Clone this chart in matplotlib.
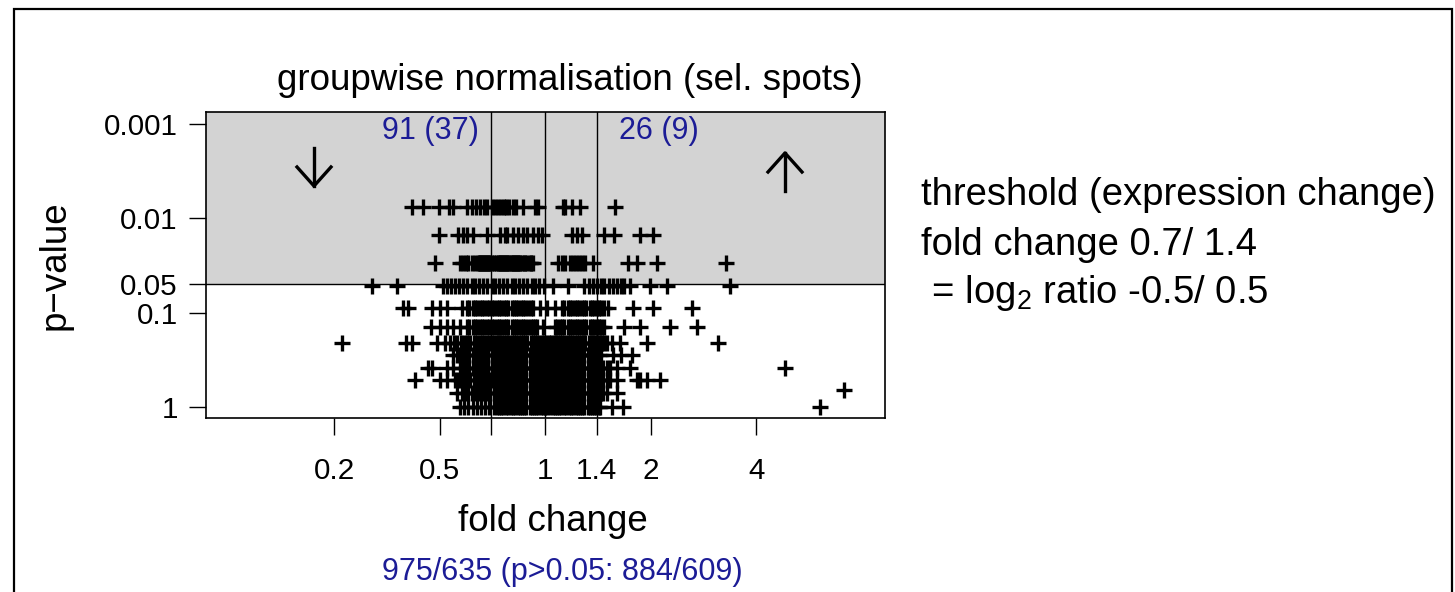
import numpy as np
import matplotlib
matplotlib.use("Agg")
import matplotlib.pyplot as plt
from matplotlib.patches import Rectangle
from matplotlib.lines import Line2D

plt.rcParams['font.family'] = ['Liberation Sans', 'DejaVu Sans']
plt.rcParams['mathtext.fontset'] = 'custom'
plt.rcParams['mathtext.rm'] = 'Liberation Sans'

# ---------------- text / labels ----------------
title = "groupwise normalisation (sel. spots)"
x_label = "fold change"
y_label = "p\u2212value"
x_tick_folds = [0.25, 0.5, 0.7, 1, 1.4, 2, 4]
x_tick_labels = ["0.2", "0.5", "", "1", "1.4", "2", "4"]
y_tick_pvals = [0.001, 0.01, 0.05, 0.1, 1]
y_tick_labels = ["0.001", "0.01", "0.05", "0.1", "1"]
fold_lines = [0.7, 1.0, 1.4]
p_threshold = 0.05
count_down = "91 (37)"
count_up = "26 (9)"
summary = "975/635 (p>0.05: 884/609)"
side_text = ["threshold (expression change)",
             "fold change 0.7/ 1.4",
             r" = log$_\mathregular{2}$ ratio -0.5/ 0.5"]

# ---------------- data: p-value levels and log2 ratios per level ----------------
p_levels = [0.0075, 0.015, 0.0295, 0.0522, 0.0894, 0.142,
            0.210, 0.282, 0.388, 0.520, 0.715, 1.0]

row_0075 = [-1.26, -1.16, -1.01, -0.91, -0.88, -0.74, -0.70, -0.66, -0.62, -0.58,
            -0.55, -0.51, -0.48, -0.45, -0.42, -0.39, -0.37, -0.34, -0.31, -0.28,
            -0.21, -0.10, -0.07, 0.17, 0.19, 0.25, 0.33, 0.66]
row_015 = [-1.01, -0.83, -0.78, -0.74, -0.69, -0.55, -0.43, -0.38, -0.36, -0.31,
           -0.26, -0.21, -0.17, -0.12, -0.07, -0.03, 0.25, 0.30, 0.35, 0.56,
           0.65, 0.90, 1.02]
row_0295 = [-1.05, -0.81, -0.78, -0.75, -0.73, -0.70, -0.67, -0.64, -0.63, -0.62,
            -0.61, -0.60, -0.59, -0.58, -0.57, -0.56, -0.55, -0.54, -0.53, -0.52,
            -0.51, -0.49, -0.47, -0.45, -0.44, -0.43, -0.42, -0.41, -0.40, -0.39,
            -0.38, -0.37, -0.36, -0.35, -0.34, -0.33, -0.32, -0.31, -0.30, -0.29,
            -0.28, -0.27, -0.26, -0.25, -0.24, -0.22, -0.20, -0.19, -0.17, -0.15,
            -0.14, -0.12, 0.12, 0.16, 0.19, 0.23, 0.26, 0.29, 0.32, 0.35,
            0.38, 0.45, 0.78, 0.87, 1.06, 1.71]
row_0522 = [-1.64, -1.41, -0.97, -0.93, -0.89, -0.86, -0.82, -0.78, -0.74, -0.70,
            -0.67, -0.63, -0.59, -0.55, -0.51, -0.48, -0.44, -0.40, -0.36, -0.32,
            -0.29, -0.25, -0.21, -0.17, -0.13, -0.10, -0.06, -0.01, 0.07, 0.21,
            0.37, 0.41, 0.45, 0.49, 0.53, 0.56, 0.60, 0.64, 0.68, 0.72,
            0.75, 0.80, 0.99, 1.15, 1.75]
row_0894 = [-1.35, -1.30, -1.07, -1.00, -0.93, -0.79,
            -0.74, -0.72, -0.69, -0.67, -0.65, -0.62, -0.60, -0.58, -0.55, -0.53,
            -0.51, -0.49, -0.46, -0.44, -0.42, -0.39, -0.37, -0.35, -0.32, -0.30,
            -0.28, -0.26, -0.23, -0.21, -0.19, -0.16, -0.14, -0.12,
            -0.05, 0.02, 0.09,
            0.16, 0.18, 0.21, 0.23, 0.25, 0.28, 0.30, 0.32, 0.35, 0.37,
            0.39, 0.42, 0.44, 0.46, 0.49, 0.51, 0.53, 0.56,
            0.59, 0.83, 1.02, 1.39]
row_142 = [-1.08, -1.00, -0.93, -0.88, -0.81,
           -0.74, -0.72, -0.69, -0.67, -0.65, -0.62, -0.60, -0.58, -0.55, -0.53,
           -0.51, -0.49, -0.46, -0.44, -0.42, -0.39, -0.37, -0.35, -0.32, -0.30,
           -0.28, -0.26, -0.23, -0.21, -0.19, -0.16, -0.14, -0.12, -0.10, -0.08,
           -0.02,
           0.09, 0.11, 0.14, 0.16, 0.18, 0.21, 0.23, 0.25, 0.28, 0.30,
           0.32, 0.35, 0.37, 0.39, 0.42, 0.44, 0.46, 0.49, 0.51, 0.53, 0.56,
           0.75, 0.90, 1.18, 1.44]
row_210 = [-1.93, -1.32, -1.26, -1.03, -0.95,
           -0.90, -0.87, -0.84, -0.80, -0.77, -0.74, -0.71, -0.68, -0.65, -0.62,
           -0.59, -0.56, -0.53, -0.50, -0.47, -0.45,
           -0.43, -0.41, -0.39, -0.36, -0.34, -0.32, -0.30, -0.28, -0.25, -0.23,
           -0.21, -0.19, -0.17, -0.14, -0.12, -0.10, -0.08, -0.06, -0.03, -0.01,
           0.01, 0.03, 0.05, 0.08, 0.10, 0.12, 0.14, 0.16, 0.19, 0.21,
           0.23, 0.25, 0.27, 0.30, 0.32, 0.34, 0.36, 0.38, 0.41, 0.43,
           0.45, 0.47, 0.49, 0.52, 0.54, 0.56, 0.58,
           0.63, 0.71, 0.96, 1.64]
row_282 = [-0.88, -0.84, -0.81, -0.78, -0.75, -0.72, -0.69, -0.66, -0.63, -0.60,
           -0.57, -0.54, -0.51, -0.48, -0.46,
           -0.44, -0.42, -0.40, -0.37, -0.35, -0.33, -0.31, -0.29, -0.26, -0.24,
           -0.22, -0.20, -0.18, -0.15, -0.13, -0.11, -0.09, -0.07, -0.04, -0.02,
           0.00, 0.02, 0.04, 0.07, 0.09, 0.11, 0.13, 0.15, 0.18, 0.20,
           0.22, 0.24, 0.26, 0.29, 0.31, 0.33, 0.35, 0.37, 0.40, 0.42,
           0.44, 0.46, 0.48, 0.51, 0.53,
           0.64, 0.72, 0.82]
row_388 = [-1.11, -1.07, -0.93, -0.88,
           -0.81, -0.78, -0.75, -0.72, -0.69, -0.66, -0.63, -0.60, -0.57, -0.54,
           -0.51, -0.48, -0.46,
           -0.44, -0.42, -0.40, -0.37, -0.35, -0.33, -0.31, -0.29, -0.26, -0.24,
           -0.22, -0.20, -0.18, -0.15, -0.13, -0.11, -0.09, -0.07, -0.04, -0.02,
           0.00, 0.02, 0.04, 0.07, 0.09, 0.11, 0.13, 0.15, 0.18, 0.20,
           0.22, 0.24, 0.26, 0.29, 0.31, 0.33, 0.35, 0.37, 0.40, 0.42,
           0.44, 0.46, 0.48, 0.51, 0.53, 0.55, 0.58, 0.61,
           0.68, 0.80, 2.27]
row_520 = [-1.24, -1.00, -0.93,
           -0.86, -0.83, -0.80, -0.77, -0.74, -0.71, -0.68, -0.65, -0.62, -0.59,
           -0.56, -0.53, -0.50, -0.47,
           -0.44, -0.42, -0.40, -0.37, -0.35, -0.33, -0.31, -0.29, -0.26, -0.24,
           -0.22, -0.20, -0.18, -0.15, -0.13, -0.11, -0.09, -0.07, -0.04, -0.02,
           0.00, 0.02, 0.04, 0.07, 0.09, 0.11, 0.13, 0.15, 0.18, 0.20,
           0.22, 0.24, 0.26, 0.29, 0.31, 0.33, 0.35, 0.37, 0.40, 0.42,
           0.44, 0.46, 0.48, 0.51, 0.53, 0.55, 0.58, 0.61,
           0.68, 0.87, 0.90, 0.96, 1.09]
row_715 = [-0.84, -0.79,
           -0.76, -0.73, -0.70, -0.67, -0.64, -0.61, -0.58, -0.55, -0.52, -0.49,
           -0.46,
           -0.44, -0.42, -0.40, -0.37, -0.35, -0.33, -0.31, -0.29, -0.26, -0.24,
           -0.22, -0.20, -0.18, -0.15, -0.13, -0.11, -0.09, -0.07, -0.04, -0.02,
           0.00, 0.02, 0.04, 0.07, 0.09, 0.11, 0.13, 0.15, 0.18, 0.20,
           0.22, 0.24, 0.26, 0.29, 0.31, 0.33, 0.35, 0.37, 0.40, 0.42,
           0.44, 0.46, 0.48, 0.51, 0.53, 0.55, 0.58,
           0.68]
row_1 = [-0.81, -0.77, -0.73, -0.69, -0.65, -0.61, -0.57, -0.53, -0.49,
         -0.46, -0.44, -0.42, -0.40, -0.37, -0.35, -0.33, -0.31, -0.29, -0.26,
         -0.24, -0.22, -0.20, -0.18, -0.15, -0.13, -0.11, -0.09, -0.07, -0.04,
         -0.02, 0.00, 0.02, 0.04, 0.07, 0.09, 0.11, 0.13, 0.15, 0.18,
         0.20, 0.22, 0.24, 0.26, 0.29, 0.31, 0.33, 0.35, 0.37, 0.40,
         0.42, 0.44, 0.46, 0.48, 0.51, 0.52,
         0.63, 0.74, 2.60]
log2_rows = [row_0075, row_015, row_0295, row_0522, row_0894, row_142,
             row_210, row_282, row_388, row_520, row_715, row_1]

extra_log2 = [2.83]
extra_p = [0.665]

# ---------------- assemble ----------------
xs, ps = [], []
for p, row in zip(p_levels, log2_rows):
    xs.extend(row)
    ps.extend([p] * len(row))
xs.extend(extra_log2)
ps.extend(extra_p)
xs = np.array(xs)
ps = np.array(ps)

W, H = 1455, 592
fig = plt.figure(figsize=(W / 100, H / 100), dpi=100)

def fx(px):
    return px / W

def fy(py):
    return 1 - py / H

# outer frame
fig.add_artist(Rectangle((fx(13.7), -0.05), fx(1451.7) - fx(13.7), fy(9.3) + 0.05,
                         transform=fig.transFigure, fill=False, lw=1.6,
                         edgecolor='black'))

ax = fig.add_axes([fx(205.7), fy(418.3), fx(885) - fx(205.7), (418.3 - 112.3) / H])
ax.set_yscale('log')
x_lim = (-3.22, 3.22)
y_lim = (10 ** 0.123, 10 ** -3.128)
ax.set_xlim(*x_lim)
ax.set_ylim(*y_lim)

ax.axhspan(p_threshold, y_lim[1], facecolor='#d3d3d3', edgecolor='none', zorder=0)
ax.axhline(p_threshold, color='black', lw=1.0, zorder=1)
for f in fold_lines:
    ax.axvline(np.log2(f), color='black', lw=1.0, zorder=1)

ax.plot(xs, ps, linestyle='none', marker='+', markersize=11.5,
        markeredgewidth=2.4, color='black', zorder=3)

ax.set_xticks(np.log2(x_tick_folds))
ax.set_xticklabels(x_tick_labels)
ax.set_yticks(y_tick_pvals)
ax.set_yticklabels(y_tick_labels)
ax.yaxis.set_minor_locator(matplotlib.ticker.NullLocator())
ax.tick_params(axis='both', direction='out', length=12, width=1.0,
               labelsize=21.3, color='black')
ax.tick_params(axis='x', pad=16)
ax.tick_params(axis='y', pad=8)
for s in ax.spines.values():
    s.set_linewidth(1.2)

blue = '#1c1c96'
ax.text(np.log2(0.7) - 0.12, 10 ** -2.93, count_down, color=blue, fontsize=22,
        ha='right', va='center')
ax.text(np.log2(1.4) + 0.21, 10 ** -2.93, count_up, color=blue, fontsize=22,
        ha='left', va='center')

# direction arrows (figure pixel positions)
def arrow(xpx, y_tail, y_head):
    d = 19 if y_head > y_tail else -19
    fig.add_artist(Line2D([fx(xpx), fx(xpx)], [fy(y_tail), fy(y_head)],
                          transform=fig.transFigure, color='black', lw=2.4))
    fig.add_artist(Line2D([fx(xpx - 17), fx(xpx), fx(xpx + 17)],
                          [fy(y_head - d), fy(y_head), fy(y_head - d)],
                          transform=fig.transFigure, color='black', lw=2.4))

arrow(314, 148, 186)
arrow(785, 191, 153)

fig.text(fx(569.5), fy(90), title, fontsize=26.5, ha='center', va='baseline')
fig.text(fx(553), fy(531), x_label, fontsize=26.5, ha='center', va='baseline')
fig.text(fx(55), fy(265), y_label, fontsize=26.5, ha='center', va='center',
         rotation=90)
fig.text(fx(562), fy(580), summary, fontsize=22, color=blue, ha='center',
         va='baseline')

for txt, base in zip(side_text, [205, 255, 303]):
    fig.text(fx(921), fy(base), txt, fontsize=27.5, ha='left', va='baseline')

fig.savefig('out.png', dpi=100)
